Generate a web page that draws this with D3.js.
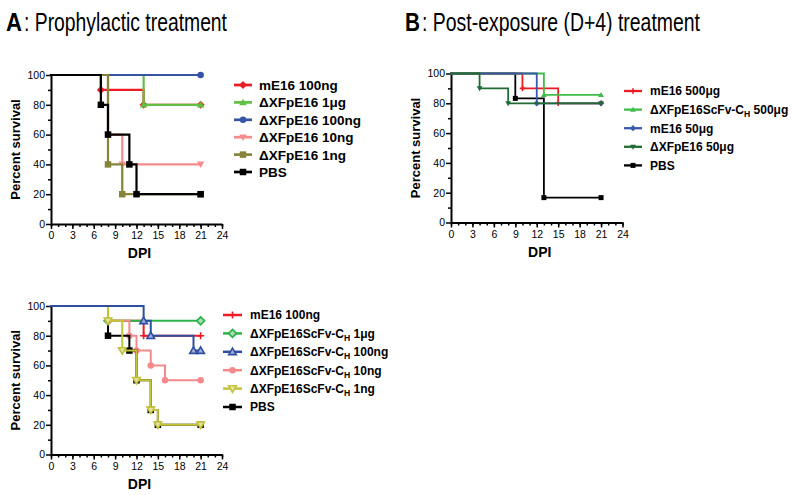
<!DOCTYPE html>
<html><head><meta charset="utf-8">
<script src="https://cdn.jsdelivr.net/npm/d3@7"></script>
<style>
body{margin:0;background:#fff}
text{font-family:"Liberation Sans",Arial,Helvetica,sans-serif}
</style>
</head><body>
<svg id="chart" width="800" height="495"></svg>
<script>
// ---------------- data ----------------
const dayTicks = [0,3,6,9,12,15,18,21,24];
const dayMinorTicks = d3.range(0,25);
const survivalTicks = [0,20,40,60,80,100];
const survivalMinorTicks = [10,30,50,70,90];

// Panel A (top): prophylactic treatment
const prophyNames = ["mE16 100ng","ΔXFpE16 1μg","ΔXFpE16 100ng","ΔXFpE16 10ng","ΔXFpE16 1ng","PBS"];
const prophy_mE16_100ng = [[0,100],[7,90],[13,80],[21,80]];
const prophy_dXF_1ug    = [[0,100],[13,80],[21,80]];
const prophy_dXF_100ng  = [[0,100],[21,100]];
const prophy_dXF_10ng   = [[0,100],[8,60],[10,40],[21,40]];
const prophy_dXF_1ng    = [[0,100],[8,40],[10,20],[21,20]];
const prophy_PBS        = [[0,100],[7,80],[8,60],[11,40],[12,20],[21,20]];

// Panel B: post-exposure (D+4)
const postNames = ["mE16 500μg","ΔXFpE16ScFv-C_H 500μg","mE16 50μg","ΔXFpE16 50μg","PBS"];
const post_mE16_500ug = [[0,100],[10,90],[15,80],[21,80]];
const post_scfv_500ug = [[0,100],[13,85.7],[21,85.7]];
const post_mE16_50ug  = [[0,100],[12,80],[21,80]];
const post_dXF_50ug   = [[0,100],[4,90],[8,80],[21,80]];
const post_PBS        = [[0,100],[9,83.3],[13,16.7],[21,16.7]];

// Panel A (bottom): prophylactic ScFv-CH
const scfvNames = ["mE16 100ng","ΔXFpE16ScFv-C_H 1μg","ΔXFpE16ScFv-C_H 100ng","ΔXFpE16ScFv-C_H 10ng","ΔXFpE16ScFv-C_H 1ng","PBS"];
const scfv_mE16_100ng = [[0,100],[8,90],[13,80],[21,80]];
const scfv_1ug        = [[0,100],[8,90],[21,90]];
const scfv_100ng      = [[0,100],[13,90],[14,80],[20,70],[21,70]];
const scfv_10ng       = [[0,100],[8,90],[11,80],[12,70],[14,60],[16,50],[21,50]];
const scfv_1ng        = [[0,100],[8,90],[10,70],[12,50],[14,30],[15,20],[21,20]];
const scfv_PBS        = [[0,100],[8,80],[11,70],[12,50],[14,30],[15,20],[21,20]];

// ---------------- styles ----------------
const prophyColors = ["#ec1c24","#62bf45","#3654a5","#f68b8d","#85843a","#000000"];
const prophySymbols = ["diamond","triangle","circle","triangleDown","square","square"];
const prophyOpen = [false,false,false,false,false,false];
const prophyOrder = [0,1,2,3,4,5];

const postColors = ["#ec1c24","#3fbd4b","#3a59aa","#236b35","#000000"];
const postSymbols = ["plus","triangle","diamond","triangleDown","square"];
const postOpen = [false,false,false,false,false];
const postOrder = [4,0,1,2,3];

const scfvColors = ["#ec1c24","#2db34a","#2e4ea2","#f4898b","#c3c43a","#000000"];
const scfvSymbols = ["plus","diamond","triangle","circle","triangleDown","square"];
const scfvOpen = [false,true,true,false,true,false];
const scfvOrder = [0,1,3,5,4,2];

const svg = d3.select("#chart");

function symbolPath(kind, s){
  switch(kind){
    case "square": return `M${-s/2},${-s/2}h${s}v${s}h${-s}Z`;
    case "circle": return d3.symbol(d3.symbolCircle, Math.PI*(s/2)*(s/2))();
    case "diamond": { const r=s*0.62; return `M0,${-r}L${r},0L0,${r}L${-r},0Z`; }
    case "triangle": { const h=s*0.95; return `M0,${-h*0.6}L${s*0.58},${h*0.45}L${-s*0.58},${h*0.45}Z`; }
    case "triangleDown": { const h=s*0.95; return `M0,${h*0.6}L${s*0.58},${-h*0.45}L${-s*0.58},${-h*0.45}Z`; }
    case "plus": { const r=s*0.55; return `M${-r},0H${r}M0,${-r}V${r}`; }
  }
}

function drawMarker(g, kind, color, open, x, y, s){
  const p = g.append("path").attr("d", symbolPath(kind, s))
    .attr("transform", `translate(${x},${y})`);
  if(kind==="plus"){
    p.attr("fill","none").attr("stroke",color).attr("stroke-width",1.6);
  } else if(open){
    p.attr("fill", d3.interpolateRgb(color,"#ffffff")(0.55)).attr("stroke",color).attr("stroke-width",1.6);
  } else {
    p.attr("fill",color).attr("stroke","none");
  }
}

function addLabel(sel, name, fs){
  const parts = name.split("C_H");
  sel.append("tspan").text(parts[0] + (parts.length>1 ? "C" : ""));
  if(parts.length>1){
    sel.append("tspan").attr("font-size", fs*0.72).attr("dy", 3).text("H");
    sel.append("tspan").attr("dy", -3).text(parts[1]);
  }
}

function drawPanel(cfg){
  const g = svg.append("g");
  const x = d3.scaleLinear().domain([0,24]).range([cfg.x0, cfg.x1]);
  const y = d3.scaleLinear().domain([0,100]).range([cfg.y0, cfg.y1]);

  // axes
  const ax = g.append("g").attr("transform",`translate(0,${cfg.y0})`);
  ax.append("g").call(d3.axisBottom(x).tickValues(dayMinorTicks).tickSize(3).tickFormat(""))
    .call(s=>s.select(".domain").remove());
  ax.append("g").call(d3.axisBottom(x).tickValues(dayTicks).tickSize(5).tickPadding(3).tickSizeOuter(0));
  const ay = g.append("g").attr("transform",`translate(${cfg.x0},0)`);
  ay.append("g").call(d3.axisLeft(y).tickValues(survivalMinorTicks).tickSize(3).tickFormat(""))
    .call(s=>s.select(".domain").remove());
  ay.append("g").call(d3.axisLeft(y).tickValues(survivalTicks).tickSize(5).tickPadding(1).tickSizeOuter(0));
  g.selectAll(".domain").attr("stroke","#000").attr("stroke-width",2);
  g.selectAll(".tick line").attr("stroke","#000").attr("stroke-width",1.5);
  g.selectAll(".tick text").attr("font-size",10.5).attr("fill","#000")
    .attr("font-family",'"Liberation Sans",Arial,sans-serif');

  // axis titles
  g.append("text").attr("x", (cfg.x0+cfg.x1)/2 + 3).attr("y", cfg.y0 + 34)
    .attr("text-anchor","middle").attr("font-size",14).attr("font-weight","bold").text("DPI");
  g.append("text").attr("transform",`translate(${cfg.x0-31},${(cfg.y0+cfg.y1)/2}) rotate(-90)`)
    .attr("text-anchor","middle").attr("font-size",13).attr("font-weight","bold").text("Percent survival");

  // curves
  const line = d3.line().x(d=>x(d[0])).y(d=>y(d[1])).curve(d3.curveStepAfter);
  cfg.order.forEach(i=>{
    g.append("path").datum(cfg.series[i]).attr("d", line)
      .attr("fill","none").attr("stroke", cfg.colors[i]).attr("stroke-width", cfg.lw)
      .attr("stroke-linejoin","miter").attr("stroke-linecap","square");
    cfg.series[i].slice(1).forEach(d=>{
      drawMarker(g, cfg.symbols[i], cfg.colors[i], cfg.open[i], x(d[0]), y(d[1]), cfg.ms);
    });
  });

  // legend
  cfg.names.forEach((name,i)=>{
    const ly = cfg.ly0 + i*cfg.ldy;
    g.append("line").attr("x1", cfg.lx0).attr("x2", cfg.lx0+cfg.llen).attr("y1", ly).attr("y2", ly)
      .attr("stroke", cfg.colors[i]).attr("stroke-width", cfg.lw+0.5);
    drawMarker(g, cfg.symbols[i], cfg.colors[i], cfg.open[i], cfg.lx0+cfg.llen/2, ly, cfg.ms);
    const t = g.append("text").attr("x", cfg.lx0+cfg.llen+cfg.lgap).attr("y", ly+cfg.lfs*0.37)
      .attr("font-size",cfg.lfs).attr("font-weight","bold").attr("fill","#000");
    addLabel(t, name, cfg.lfs);
  });
}

drawPanel({
  x0:51, x1:222, y0:224, y1:75, lw:2.2, ms:6.5,
  series:[prophy_mE16_100ng,prophy_dXF_1ug,prophy_dXF_100ng,prophy_dXF_10ng,prophy_dXF_1ng,prophy_PBS],
  names:prophyNames, colors:prophyColors, symbols:prophySymbols, open:prophyOpen, order:prophyOrder,
  lx0:234, llen:18, lgap:7, lfs:13.5, ly0:85, ldy:17.4
});
drawPanel({
  x0:451, x1:622.5, y0:222.5, y1:73.5, lw:1.8, ms:5,
  series:[post_mE16_500ug,post_scfv_500ug,post_mE16_50ug,post_dXF_50ug,post_PBS],
  names:postNames, colors:postColors, symbols:postSymbols, open:postOpen, order:postOrder,
  lx0:624, llen:18, lgap:8, lfs:12, ly0:91, ldy:18.6
});
drawPanel({
  x0:51, x1:222, y0:454.5, y1:306, lw:2, ms:6.5,
  series:[scfv_mE16_100ng,scfv_1ug,scfv_100ng,scfv_10ng,scfv_1ng,scfv_PBS],
  names:scfvNames, colors:scfvColors, symbols:scfvSymbols, open:scfvOpen, order:scfvOrder,
  lx0:223, llen:19, lgap:8, lfs:12, ly0:315, ldy:18.4
});

// panel titles
function title(xp, letter, letterLen, rest, restLen){
  svg.append("text").attr("x", xp).attr("y", 31).attr("font-size",25).attr("font-weight","bold")
    .attr("textLength", letterLen).attr("lengthAdjust","spacingAndGlyphs").text(letter);
  svg.append("text").attr("x", xp+letterLen+2).attr("y", 31).attr("font-size",25)
    .attr("textLength", restLen).attr("lengthAdjust","spacingAndGlyphs").text(rest);
}
title(6, "A", 16, ": Prophylactic treatment", 203);
title(405, "B", 15, ": Post-exposure (D+4) treatment", 278);
</script>
</body></html>
